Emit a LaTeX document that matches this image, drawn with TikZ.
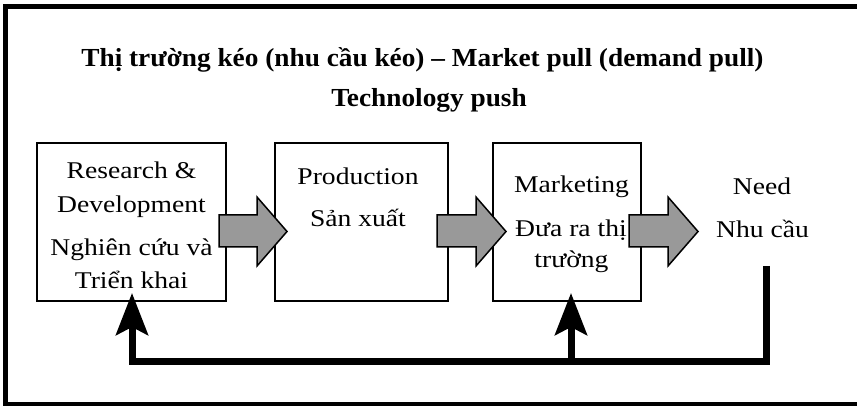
\documentclass[tikz,border=0pt]{standalone}
\usepackage{fontspec}
\setmainfont{Liberation Serif}[FakeStretch=1.15]
\newfontfamily\headfont{Liberation Serif}[FakeStretch=1.05]
\usetikzlibrary{arrows.meta}

\tikzset{
  frame/.style={line width=5.5pt},
  stage/.style={draw, line width=2pt, inner sep=0pt},
  body/.style={anchor=base, inner sep=0pt, font=\fontsize{24}{28}\selectfont},
  head/.style={anchor=base, inner sep=0pt, font=\headfont\bfseries\fontsize{26}{31}\selectfont},
  garrow/.style={fill=black!40, draw=black, line width=1.5pt, line join=miter},
  feedback/.style={line width=7pt, line join=miter, line cap=butt,
    -{Stealth[length=42pt, width=32pt, inset=8pt]}}
}

\begin{document}
\begin{tikzpicture}[x=1pt, y=-1pt]
\useasboundingbox (0,0) rectangle (857,406);
\clip (0,0) rectangle (857,406);

% outer frame (runs off the right and bottom edges)
\draw[frame] (5.5,6.5) rectangle (880,405);

% headings
\node[head] (title) at (422.5,67) {Thị trường kéo (nhu cầu kéo) – Market pull (demand pull)};
\node[head] (subtitle) at (429,107) {Technology push};

% stages
\node[stage, minimum width=189pt, minimum height=158pt] (rd) at (131.5,222) {};
\node[stage, minimum width=173pt, minimum height=158pt] (prod) at (361.5,222) {};
\node[stage, minimum width=148pt, minimum height=158pt] (mkt) at (567,222) {};

\node[body] (rd1) at (131.5,179) {Research \&};
\node[body] (rd2) at (131.5,213) {Development};
\node[body] (rd3) at (131.5,255) {Nghiên cứu và};
\node[body] (rd4) at (131.5,288) {Triển khai};

\node[body] (prod1) at (358,185) {Production};
\node[body] (prod2) at (358,227) {Sản xuất};

\node[body] (mkt1) at (571.5,193) {Marketing};
\node[body] (mkt2) at (571,237) {Đưa ra thị};
\node[body] (mkt3) at (571.5,268) {trường};

\node[body] (need1) at (762,195) {Need};
\node[body] (need2) at (762.5,238) {Nhu cầu};

% grey block arrows between the stages
\foreach \a/\t in {219/287, 437/506, 629/698}{
  \filldraw[garrow] (\a,215) -- (\t-30,215) -- (\t-30,197) -- (\t,231.5)
    -- (\t-30,266) -- (\t-30,247) -- (\a,247) -- cycle;
}

% feedback loop from the need back to R&D and marketing
\coordinate (needfoot) at (766.5,266);
\coordinate (rdin) at (132,293);
\coordinate (split) at (571,361);
\coordinate (mktin) at (571,293);
\draw[feedback] (needfoot) -- (766.5,361) -| (rdin);
\draw[feedback] (split) -- (mktin);
\end{tikzpicture}
\end{document}
